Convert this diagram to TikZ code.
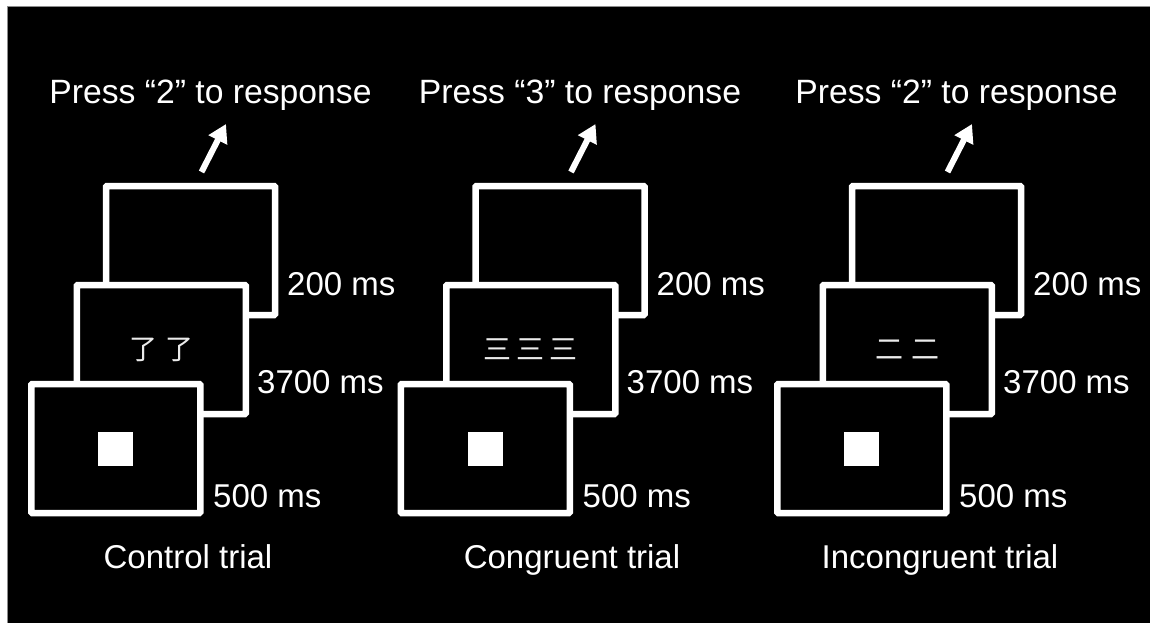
\documentclass[tikz,border=0pt]{standalone}
\usepackage{fontspec}
\setmainfont{Liberation Sans}
\newfontfamily\cjk{Noto Sans CJK SC}
\usetikzlibrary{arrows.meta}
\begin{document}
\begin{tikzpicture}[x=1pt,y=-1pt,
  frame/.style={rectangle, draw=white, line width=6.5pt, fill=black, minimum width=169pt, minimum height=129pt, inner sep=0pt, outer sep=0pt, rounded corners=1pt},
  lbl/.style={text=white, font=\fontsize{33}{40}\selectfont, inner sep=0pt},
  cjklbl/.style={text=white!92!black, font=\cjk\fontsize{28}{30}\selectfont, inner sep=0pt},
  dot/.style={rectangle, fill=white, minimum width=35pt, minimum height=34pt, inner sep=0pt},
  resp/.style={draw=white, line width=6pt, -{Triangle[length=18pt,width=20pt]}}
]
\useasboundingbox (0,0) rectangle (1150,622);
\fill[white] (0,0) rectangle (1150,622);
\draw[fill=black, draw=black!45, line width=1pt] (7.5,6.5) rectangle (1152,625);
\foreach \dx/\key/\cap/\capx [count=\i] in {0/2/Control trial/188, 369.5/3/Congruent trial/572, 746/2/Incongruent trial/940}{
  \node[frame] (back\i) at (190.5+\dx,250.5) {};
  \node[frame] (mid\i) at (161.25+\dx,349.5) {};
  \node[frame] (front\i) at (115.75+\dx,448.5) {};
  \node[dot] (sq\i) at (front\i) {};
  \node[lbl, anchor=base west] (t200\i) at (287+\dx,295) {200 ms};
  \node[lbl, anchor=base west] (t3700\i) at (257+\dx,393) {3700 ms};
  \node[lbl, anchor=base west] (t500\i) at (213+\dx,507) {500 ms};
  \node[lbl, anchor=base, font=\fontsize{33.7}{40}\selectfont] (press\i) at (210.5+\dx,103) {Press “\key” to response};
  \node[lbl, anchor=base] (cap\i) at (\capx,568) {\cap};
  \coordinate (atail\i) at (201.5+\dx,172);
  \coordinate (ahead\i) at (226+\dx,124);
  \draw[resp] (atail\i) -- (ahead\i);
}
\node[cjklbl] (c1) at (mid1) {了\hspace{8pt}了};
\node[cjklbl] (c2) at (mid2) {三\hspace{5pt}三\hspace{5pt}三};
\node[cjklbl] (c3) at (mid3) {二\hspace{8pt}二};
\end{tikzpicture}
\end{document}
